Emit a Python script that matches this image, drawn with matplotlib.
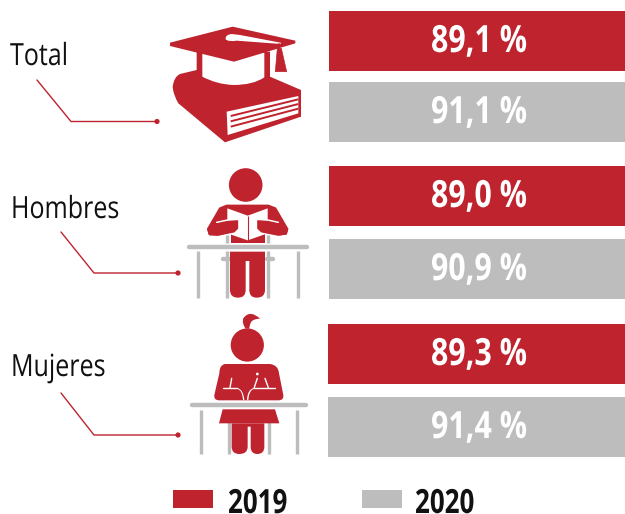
import matplotlib
matplotlib.use("Agg")
import matplotlib.pyplot as plt
from matplotlib.patches import Polygon, Circle, Rectangle, PathPatch
from matplotlib.path import Path
from matplotlib.patheffects import AbstractPathEffect
from matplotlib.transforms import Affine2D

groups = ["Total", "Hombres", "Mujeres"]
years = ["2019", "2020"]
v2019 = [89.1, 89.0, 89.3]
v2020 = [91.1, 90.9, 91.4]

RED = "#BE232E"
GREY = "#BDBDBD"
INK = "#111111"

fig = plt.figure(figsize=(6.25, 5.14), dpi=100)
ax = fig.add_axes([0, 0, 1, 1])
ax.set_xlim(0, 625)
ax.set_ylim(514, 0)
ax.axis("off")


class Condense(AbstractPathEffect):
    """Narrow a text horizontally around x0 (pixels); no condensed face is installed."""
    def __init__(self, x0, sx):
        super().__init__()
        self.x0, self.sx = x0, sx

    def draw_path(self, renderer, gc, tpath, affine, rgbFace=None):
        a = affine + Affine2D().translate(-self.x0, 0).scale(self.sx, 1).translate(self.x0, 0)
        renderer.draw_path(gc, tpath, a, rgbFace)


def fmt(v):
    return f"{v:.1f}".replace(".", ",") + " %"


rows = [(11, 82, 329), (166, 239, 329), (324, 397, 328)]
for (y1, y2, x0), a, b in zip(rows, v2019, v2020):
    for y, val, col in ((y1, a, RED), (y2, b, GREY)):
        ax.add_patch(Rectangle((x0, y), 625 - x0, 60, fc=col, ec="none"))
        ax.text(479, y + 41, fmt(val), color="white", fontsize=27, fontweight="bold",
                family="Open Sans", ha="center", va="baseline",
                path_effects=[Condense(479, 0.81)])

label_pos = [(10, 65), (11, 218), (11, 376)]
leaders = [[(37, 80), (71, 121.5), (157, 121.5)],
           [(61, 232), (94, 273), (178, 273)],
           [(61, 393), (94, 435), (178, 435)]]
for g, (x, y), pts in zip(groups, label_pos, leaders):
    ax.text(x, y, g, fontsize=22, family="Open Sans", color=INK, ha="left", va="baseline",
            path_effects=[Condense(x, 0.82)])
    xs, ys = zip(*pts)
    ax.plot(xs, ys, color=RED, lw=1.0, solid_capstyle="round")
    ax.add_patch(Circle(pts[-1], 2.6, fc=RED, ec="none"))


def zp(pts, ox, oy):
    return [(ox + a / 3, oy + b / 3) for a, b in pts]


def shape(pts, ox, oy, fc=RED, lw=0, z=3):
    ax.add_patch(Polygon(zp(pts, ox, oy), fc=fc, ec=fc, lw=lw, joinstyle="round", zorder=z))


def smooth(verts, codes, ox, oy, fc=RED, z=3):
    ax.add_patch(PathPatch(Path(zp(verts, ox, oy), codes), fc=fc, ec="none", zorder=z))


def stroke(pts, ox, oy, col="white", lw=1.0, z=6, cap="round"):
    xs, ys = zip(*zp(pts, ox, oy))
    ax.plot(xs, ys, color=col, lw=lw, solid_capstyle=cap, zorder=z)


M, L, C = Path.MOVETO, Path.LINETO, Path.CURVE3

# ---- cap on book
ox, oy = 160, 20
smooth([(110, 150), (60, 162), (42, 170), (38, 200), (40, 225), (55, 250), (195, 367),
        (423, 290), (423, 210), (330, 170), (330, 150), (110, 150)],
       [M, L, C, C, C, C, L, L, L, L, L, L], ox, oy, z=2)
shape([(200, 275), (415, 228), (415, 280), (203, 345)], ox, oy, fc="white", z=3)
stroke([(212, 288), (415, 238)], ox, oy, RED, 1.4, 4, "butt")
stroke([(212, 304), (415, 252)], ox, oy, RED, 1.4, 4, "butt")
stroke([(212, 320), (415, 266)], ox, oy, RED, 1.4, 4, "butt")
shape([(110, 150), (110, 95), (330, 95), (330, 170), (313, 172), (127, 170), (110, 160)], ox, oy, z=3)
smooth([(127, 100), (313, 98), (313, 172), (280, 195), (220, 195), (170, 193), (127, 170), (127, 100)],
       [M, L, L, C, C, C, C, L], ox, oy, fc="white", z=4)
shape([(30, 68), (218, 20), (406, 62), (406, 70), (222, 125), (30, 78)], ox, oy, z=5)
smooth([(215, 42), (195, 44), (197, 58), (205, 66), (230, 62), (362, 72), (362, 68), (240, 45), (215, 42)],
       [M, C, C, C, C, L, L, L, L], ox, oy, fc="white", z=6)
shape([(352, 85), (364, 85), (380, 155), (346, 155)], ox, oy, lw=0.5, z=6)
stroke([(358, 72), (358, 90)], ox, oy, RED, 1.3, 6)

# ---- man
ox, oy = 180, 165
ax.add_patch(Circle((245.7, 185), 16.8, fc=RED, ec="none", zorder=3))
stroke([(140, 210), (140, 233)], ox, oy, GREY, 2.4, 2, "butt")
stroke([(265, 210), (265, 233)], ox, oy, GREY, 2.4, 2, "butt")
stroke([(26, 245), (382, 245)], ox, oy, GREY, 3.2, 2)
for x in (53, 140, 265, 353):
    stroke([(x, 258), (x, 398)], ox, oy, GREY, 2.4, 1, "butt")
stroke([(130, 283), (148, 283)], ox, oy, GREY, 3.2, 1)
stroke([(260, 283), (278, 283)], ox, oy, GREY, 3.2, 1)
shape([(140, 122), (265, 122), (286, 130), (322, 192), (318, 206), (300, 208),
       (240, 195), (165, 195), (120, 208), (90, 208), (84, 192), (120, 130)], ox, oy, lw=1.5)
shape([(152, 205), (254, 205), (254, 233), (152, 233)], ox, oy)
ax.add_patch(Polygon(zp([(142, 130), (203, 152), (263, 130), (263, 205), (203, 226), (142, 205)], ox, oy),
                     fc="white", ec="none", zorder=4))
stroke([(203, 152), (203, 226)], ox, oy, RED, 0.8, 5, "butt")
shape([(172, 168), (172, 190), (162, 200), (112, 210), (88, 208), (84, 192), (115, 172)], ox, oy, lw=1.2, z=5)
shape([(234, 168), (234, 190), (245, 200), (295, 210), (318, 206), (322, 192), (290, 172)], ox, oy, lw=1.2, z=5)
stroke([(110, 172), (143, 165)], ox, oy, "white", 1.1)
stroke([(263, 165), (295, 172)], ox, oy, "white", 1.1)
smooth([(150, 260), (255, 260), (255, 375), (255, 398), (230, 398), (208, 398), (208, 375),
        (208, 288), (197, 288), (197, 375), (197, 398), (174, 398), (150, 398), (150, 375), (150, 260)],
       [M, L, L, C, C, C, C, L, L, L, C, C, C, C, L], ox, oy)

# ---- woman
ox, oy = 180, 310
ax.add_patch(Circle((247.3, 345), 16.6, fc=RED, ec="none", zorder=3))
smooth([(197, 56), (185, 40), (190, 25), (200, 10), (215, 12), (228, 14), (240, 26), (222, 26),
        (214, 35), (208, 45), (208, 56), (197, 56)],
       [M, C, C, C, C, C, C, C, C, C, C, L], ox, oy)
stroke([(36, 285), (379, 285)], ox, oy, GREY, 3.2, 2)
for x in (62, 146, 267, 352):
    stroke([(x, 300), (x, 432)], ox, oy, GREY, 2.4, 1, "butt")
smooth([(135, 162), (270, 162), (295, 165), (297, 190), (310, 255), (312, 271), (295, 271),
        (118, 271), (101, 271), (103, 255), (118, 190), (118, 165), (135, 162)],
       [M, L, C, C, L, C, C, L, C, C, L, C, C], ox, oy)
stroke([(155, 205), (150, 233)], ox, oy)
stroke([(130, 235), (172, 235)], ox, oy)
smooth([(172, 234), (190, 238), (193, 270), (189, 270), (187, 240), (172, 237), (172, 234)],
       [M, C, C, L, C, C, L], ox, oy, fc="white", z=6)
stroke([(232, 205), (222, 235)], ox, oy)
stroke([(255, 205), (265, 233)], ox, oy)
stroke([(222, 235), (285, 235)], ox, oy)
smooth([(222, 234), (202, 238), (201, 270), (205, 270), (207, 240), (222, 237), (222, 234)],
       [M, C, C, L, C, C, L], ox, oy, fc="white", z=6)
ax.add_patch(Circle(zp([(232, 192)], ox, oy)[0], 1.4, fc="white", ec="none", zorder=6))
shape([(128, 298), (285, 298), (298, 340), (117, 340)], ox, oy)
smooth([(155, 340), (253, 340), (253, 410), (253, 432), (232, 432), (212, 432), (212, 410),
        (212, 350), (203, 350), (203, 410), (203, 432), (178, 432), (155, 432), (155, 410), (155, 340)],
       [M, L, L, C, C, C, C, L, L, L, C, C, C, C, L], ox, oy)

# ---- legend
for year, col, xr, xt in zip(years, (RED, GREY), (173, 362), (228, 415)):
    ax.add_patch(Rectangle((xr, 490), 40, 18, fc=col, ec="none"))
    ax.text(xt, 513, year, fontsize=24, fontweight="bold", family="Open Sans",
            color=INK, ha="left", va="baseline", path_effects=[Condense(xt, 0.78)])

fig.savefig("out.png", dpi=100)
